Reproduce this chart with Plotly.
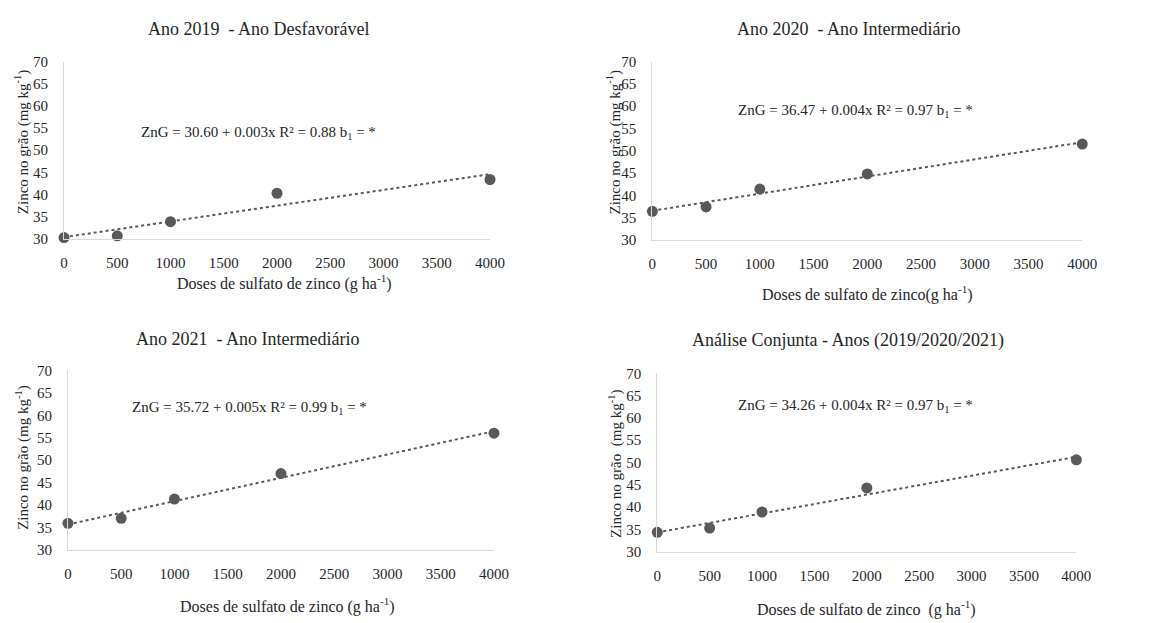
import numpy as np
import plotly.graph_objects as go

W, H = 1175, 623

doses = [0, 500, 1000, 2000, 4000]
zn_2019 = [30.3, 30.7, 33.9, 40.3, 43.4]
zn_2020 = [36.4, 37.4, 41.4, 44.8, 51.5]
zn_2021 = [35.9, 37.0, 41.3, 47.0, 56.0]
zn_conj = [34.35, 35.3, 38.9, 44.3, 50.6]

titles = ["Ano 2019  - Ano Desfavorável", "Ano 2020  - Ano Intermediário",
          "Ano 2021  - Ano Intermediário", "Análise Conjunta - Anos (2019/2020/2021)"]
equations = ["ZnG = 30.60 + 0.003x R² = 0.88 b<sub>1</sub> = *",
             "ZnG = 36.47 + 0.004x R² = 0.97 b<sub>1</sub> = *",
             "ZnG = 35.72 + 0.005x R² = 0.99 b<sub>1</sub> = *",
             "ZnG = 34.26 + 0.004x R² = 0.97 b<sub>1</sub> = *"]
xtitles = ["Doses de sulfato de zinco (g ha<sup>-1</sup>)",
           "Doses de sulfato de zinco(g ha<sup>-1</sup>)",
           "Doses de sulfato de zinco (g ha<sup>-1</sup>)",
           "Doses de sulfato de zinco  (g ha<sup>-1</sup>)"]
ytitles = ["Zinco no grão (mg kg<sup>-1</sup>)", "Zinco no grão (mg kg<sup>-1</sup>)",
           "Zinco no grão (mg kg<sup>-1</sup>)", "Zinco no grão  (mg kg<sup>-1</sup>)"]
series = [zn_2019, zn_2020, zn_2021, zn_conj]

# pixel layout: plot box (left, right, top, bottom), title, eq, xtitle, ytitle centres
boxes = [(61, 494, 55, 237), (659, 1096, 55, 238), (65, 498, 372, 556), (664, 1090, 375, 558)]
title_pos = [(259, 22), (858, 22), (248, 340), (858, 341)]
eq_pos = [(259, 128), (866, 106), (250, 411), (865, 409)]
xt_pos = [(285, 282), (878, 293), (288, 613), (877, 616)]
yt_pos = [(18, 137), (620, 137), (18, 461), (622, 468)]

px = lambda x: x / W
py = lambda y: 1 - y / H

FONT = "Liberation Serif, Times New Roman, serif"
TXT = "#262626"
GREY = "#595959"

fig = go.Figure()
annotations = []
for i, (ys, box) in enumerate(zip(series, boxes)):
    ax = "" if i == 0 else str(i + 1)
    xa, ya = "x" + ax, "y" + ax
    coef = np.polyfit(doses, ys, 1)
    xfit = np.array([doses[0], doses[-1]])
    fig.add_trace(go.Scatter(x=xfit, y=np.polyval(coef, xfit), mode="lines",
                             line=dict(color=GREY, width=2, dash="dot"),
                             xaxis=xa, yaxis=ya, showlegend=False, cliponaxis=False))
    fig.add_trace(go.Scatter(x=doses, y=ys, mode="markers",
                             marker=dict(color=GREY, size=11),
                             xaxis=xa, yaxis=ya, showlegend=False, cliponaxis=False))
    l, r, t, b = box
    common = dict(showgrid=False, zeroline=False, showline=True, linecolor="#d9d9d9",
                  linewidth=1, ticks="", tickfont=dict(family=FONT, size=15, color=TXT))
    fig.update_layout(**{
        "xaxis" + ax: dict(domain=[px(l), px(r)], range=[0, 4000], tick0=0, dtick=500,
                           anchor=ya, ticklabelstandoff=10, **common),
        "yaxis" + ax: dict(domain=[py(b), py(t)], range=[30, 70], tick0=30, dtick=5,
                           anchor=xa, ticklabelstandoff=12, **common),
    })
    annotations += [
        dict(text=titles[i], x=px(title_pos[i][0]), y=py(title_pos[i][1]),
             font=dict(family=FONT, size=18, color=TXT)),
        dict(text=equations[i], x=px(eq_pos[i][0]), y=py(eq_pos[i][1]),
             font=dict(family=FONT, size=15, color=TXT)),
        dict(text=xtitles[i], x=px(xt_pos[i][0]), y=py(xt_pos[i][1]),
             font=dict(family=FONT, size=16, color=TXT)),
        dict(text=ytitles[i], x=px(yt_pos[i][0]), y=py(yt_pos[i][1]), textangle=-90,
             font=dict(family=FONT, size=15, color=TXT)),
    ]

for a in annotations:
    a.update(xref="paper", yref="paper", showarrow=False, xanchor="center", yanchor="middle")

fig.update_layout(width=W, height=H, margin=dict(l=0, r=0, t=0, b=0),
                  paper_bgcolor="white", plot_bgcolor="white",
                  annotations=annotations)
fig.write_html("out.html", config={"displayModeBar": False},
               post_script="document.body.style.margin='0';document.body.style.overflow='hidden';")
